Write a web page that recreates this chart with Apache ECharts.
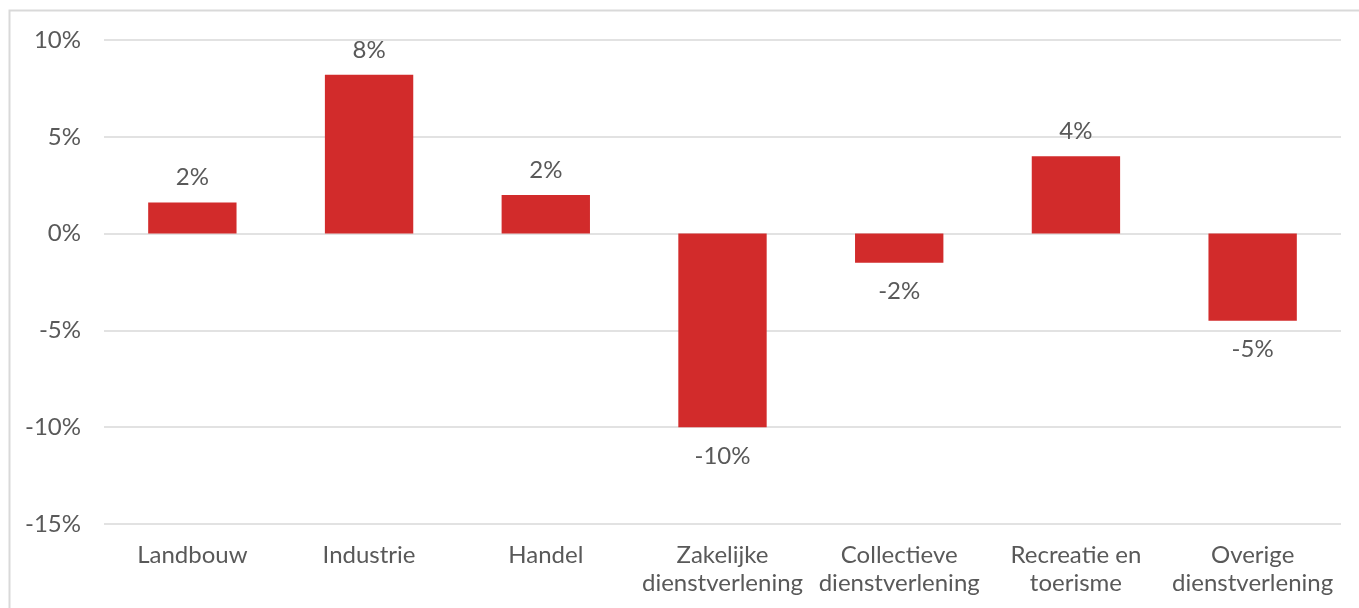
<!DOCTYPE html>
<html>
<head>
<meta charset="utf-8">
<script src="https://cdn.jsdelivr.net/npm/echarts@6/dist/echarts.min.js"></script>
<style>
  html, body { margin: 0; padding: 0; background: #fff; }
  #chart { width: 1359px; height: 608px; }
</style>
</head>
<body>
<div id="chart"></div>
<script>
// categories and values (percent change)
const categories = [
  'Landbouw',
  'Industrie',
  'Handel',
  'Zakelijke\ndienstverlening',
  'Collectieve\ndienstverlening',
  'Recreatie en\ntoerisme',
  'Overige\ndienstverlening'
]
const values = [1.6, 8.2, 2.0, -10.0, -1.5, 4.0, -4.5]
const yTicks = [-15, -10, -5, 0, 5, 10]

const textColor = '#595959'
const fontFamily = 'Lato, "Noto Sans", sans-serif'

function pct(v) {
  // round half away from zero, like the spreadsheet labels
  const r = Math.sign(v) * Math.round(Math.abs(v))
  return r + '%'
}

const chart = echarts.init(document.getElementById('chart'))
chart.setOption({
  animation: false,
  textStyle: { fontFamily: fontFamily },
  graphic: [{
    type: 'rect',
    shape: { x: 9.5, y: 10.5, width: 1400, height: 700 },
    style: { fill: 'none', stroke: '#d9d9d9', lineWidth: 2 },
    silent: true
  }],
  grid: {
    left: 104,
    right: 18,
    top: 40,
    bottom: 84
  },
  xAxis: {
    type: 'category',
    data: categories,
    axisLine: { show: false },
    axisTick: { show: false },
    axisLabel: {
      color: textColor,
      fontSize: 24,
      lineHeight: 28,
      margin: 17,
      interval: 0
    }
  },
  yAxis: {
    type: 'value',
    min: yTicks[0],
    max: yTicks[yTicks.length - 1],
    interval: 5,
    axisLine: { show: false },
    axisTick: { show: false },
    axisLabel: {
      color: textColor,
      fontSize: 24,
      margin: 23,
      formatter: v => v + '%'
    },
    splitLine: {
      lineStyle: { color: '#d9d9d9', width: 1.5 }
    }
  },
  series: [{
    type: 'bar',
    barWidth: '50%',
    itemStyle: { color: '#d22b2b' },
    data: values.map(v => ({
      value: v,
      label: {
        show: true,
        position: v >= 0 ? 'top' : 'bottom',
        distance: v >= 0 ? 13 : 17,
        color: textColor,
        fontSize: 24,
        formatter: () => pct(v)
      }
    }))
  }]
})
</script>
</body>
</html>
